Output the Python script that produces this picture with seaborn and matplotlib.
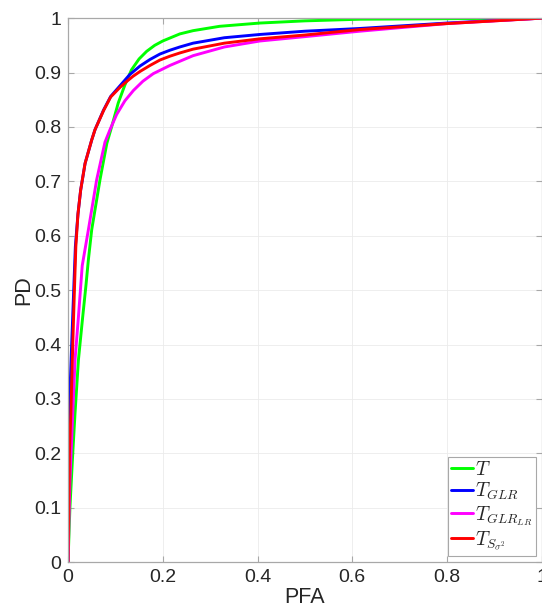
import numpy as np
import pandas as pd
import matplotlib
matplotlib.use("Agg")
import matplotlib.pyplot as plt
import seaborn as sns

# ROC curves
pfa_t = [0, 0.004, 0.010, 0.0148, 0.022, 0.031, 0.038, 0.043, 0.050, 0.0675, 0.082, 0.092,
         0.106, 0.120, 0.134, 0.150, 0.166, 0.183, 0.200, 0.236, 0.264, 0.320, 0.405, 0.500,
         0.616, 0.800, 1.0]
pd_t = [0, 0.10, 0.20, 0.274, 0.372, 0.451, 0.51, 0.556, 0.611, 0.703, 0.770, 0.800,
        0.844, 0.877, 0.905, 0.925, 0.939, 0.950, 0.958, 0.971, 0.977, 0.985, 0.991, 0.995,
        0.998, 0.999, 1.0]

pfa_glr = [0, 0.002, 0.004, 0.0078, 0.012, 0.0155, 0.021, 0.0267, 0.036, 0.050, 0.057, 0.075,
           0.090, 0.110, 0.130, 0.152, 0.173, 0.194, 0.215, 0.236, 0.264, 0.330, 0.405, 0.500,
           0.616, 0.800, 1.0]
pd_glr = [0, 0.22, 0.311, 0.403, 0.50, 0.58, 0.64, 0.684, 0.733, 0.776, 0.795, 0.831,
          0.856, 0.876, 0.896, 0.912, 0.924, 0.934, 0.941, 0.947, 0.954, 0.964, 0.970, 0.976,
          0.981, 0.991, 1.0]

pfa_glr_lr = [0, 0.004, 0.010, 0.0148, 0.022, 0.030, 0.043, 0.0605, 0.078, 0.0886, 0.1027,
              0.120, 0.138, 0.158, 0.180, 0.215, 0.264, 0.330, 0.405, 0.500, 0.616, 0.800, 1.0]
pd_glr_lr = [0, 0.15, 0.274, 0.372, 0.451, 0.545, 0.611, 0.703, 0.772, 0.795, 0.823,
             0.848, 0.867, 0.884, 0.898, 0.913, 0.931, 0.947, 0.958, 0.966, 0.976, 0.990, 1.0]

pfa_s = [0, 0.003, 0.006, 0.010, 0.0135, 0.0165, 0.021, 0.0267, 0.036, 0.050, 0.057, 0.075,
         0.090, 0.110, 0.123, 0.137, 0.152, 0.173, 0.194, 0.215, 0.236, 0.264, 0.330, 0.405,
         0.500, 0.616, 0.800, 1.0]
pd_s = [0, 0.20, 0.274, 0.40, 0.50, 0.58, 0.64, 0.684, 0.733, 0.776, 0.795, 0.830,
        0.855, 0.873, 0.883, 0.893, 0.902, 0.913, 0.923, 0.930, 0.936, 0.943, 0.954, 0.962,
        0.969, 0.979, 0.990, 1.0]

labels = [r"$T$", r"$T_{GLR}$", r"$T_{GLR_{LR}}$", r"$T_{S_{\sigma^2}}$"]
colors = ["#00ff00", "#0000ff", "#ff00ff", "#ff0000"]
x_ticks = [0, 0.2, 0.4, 0.6, 0.8, 1]
x_tick_labels = ["0", "0.2", "0.4", "0.6", "0.8", "1"]
y_ticks = [0, 0.1, 0.2, 0.3, 0.4, 0.5, 0.6, 0.7, 0.8, 0.9, 1]
y_tick_labels = ["0", "0.1", "0.2", "0.3", "0.4", "0.5", "0.6", "0.7", "0.8", "0.9", "1"]

frames = []
for lab, xs, ys in zip(labels, [pfa_t, pfa_glr, pfa_glr_lr, pfa_s],
                       [pd_t, pd_glr, pd_glr_lr, pd_s]):
    frames.append(pd.DataFrame({"PFA": xs, "PD": ys, "test": lab}))
df = pd.concat(frames, ignore_index=True)

sns.set_theme(style="whitegrid")
plt.rcParams["font.family"] = ["Liberation Sans", "DejaVu Sans"]
plt.rcParams["mathtext.fontset"] = "cm"

fig = plt.figure(figsize=(5.42, 6.13), dpi=100)
ax = fig.add_axes([0.1255, 0.083, 0.874, 0.8874])

sns.lineplot(data=df, x="PFA", y="PD", hue="test", palette=dict(zip(labels, colors)),
             hue_order=labels, estimator=None, sort=False, linewidth=2.1, ax=ax)

ax.set_xlim(0, 1)
ax.set_ylim(0, 1)
ax.set_xticks(x_ticks)
ax.set_xticklabels(x_tick_labels)
ax.set_yticks(y_ticks)
ax.set_yticklabels(y_tick_labels)
ax.tick_params(direction="in", length=4, width=0.8, color="#a8a8a8",
               labelsize=14, labelcolor="#262626", top=True, right=True,
               bottom=True, left=True, pad=5)
ax.grid(True, color="#ebebeb", linewidth=0.6)
for s in ax.spines.values():
    s.set_color("#a8a8a8")
    s.set_linewidth(0.9)
ax.set_xlabel("PFA", fontsize=15.5, color="#262626", labelpad=1)
ax.set_ylabel("PD", fontsize=15.5, color="#262626", labelpad=0)

leg = ax.legend(loc="lower right", fontsize=14, frameon=True, fancybox=False,
                edgecolor="#a8a8a8", framealpha=1, handlelength=1.1,
                handletextpad=0.1, borderaxespad=0.3, borderpad=0.2,
                labelspacing=0.1)
leg.get_frame().set_linewidth(0.8)

fig.savefig("out.png", dpi=100)
